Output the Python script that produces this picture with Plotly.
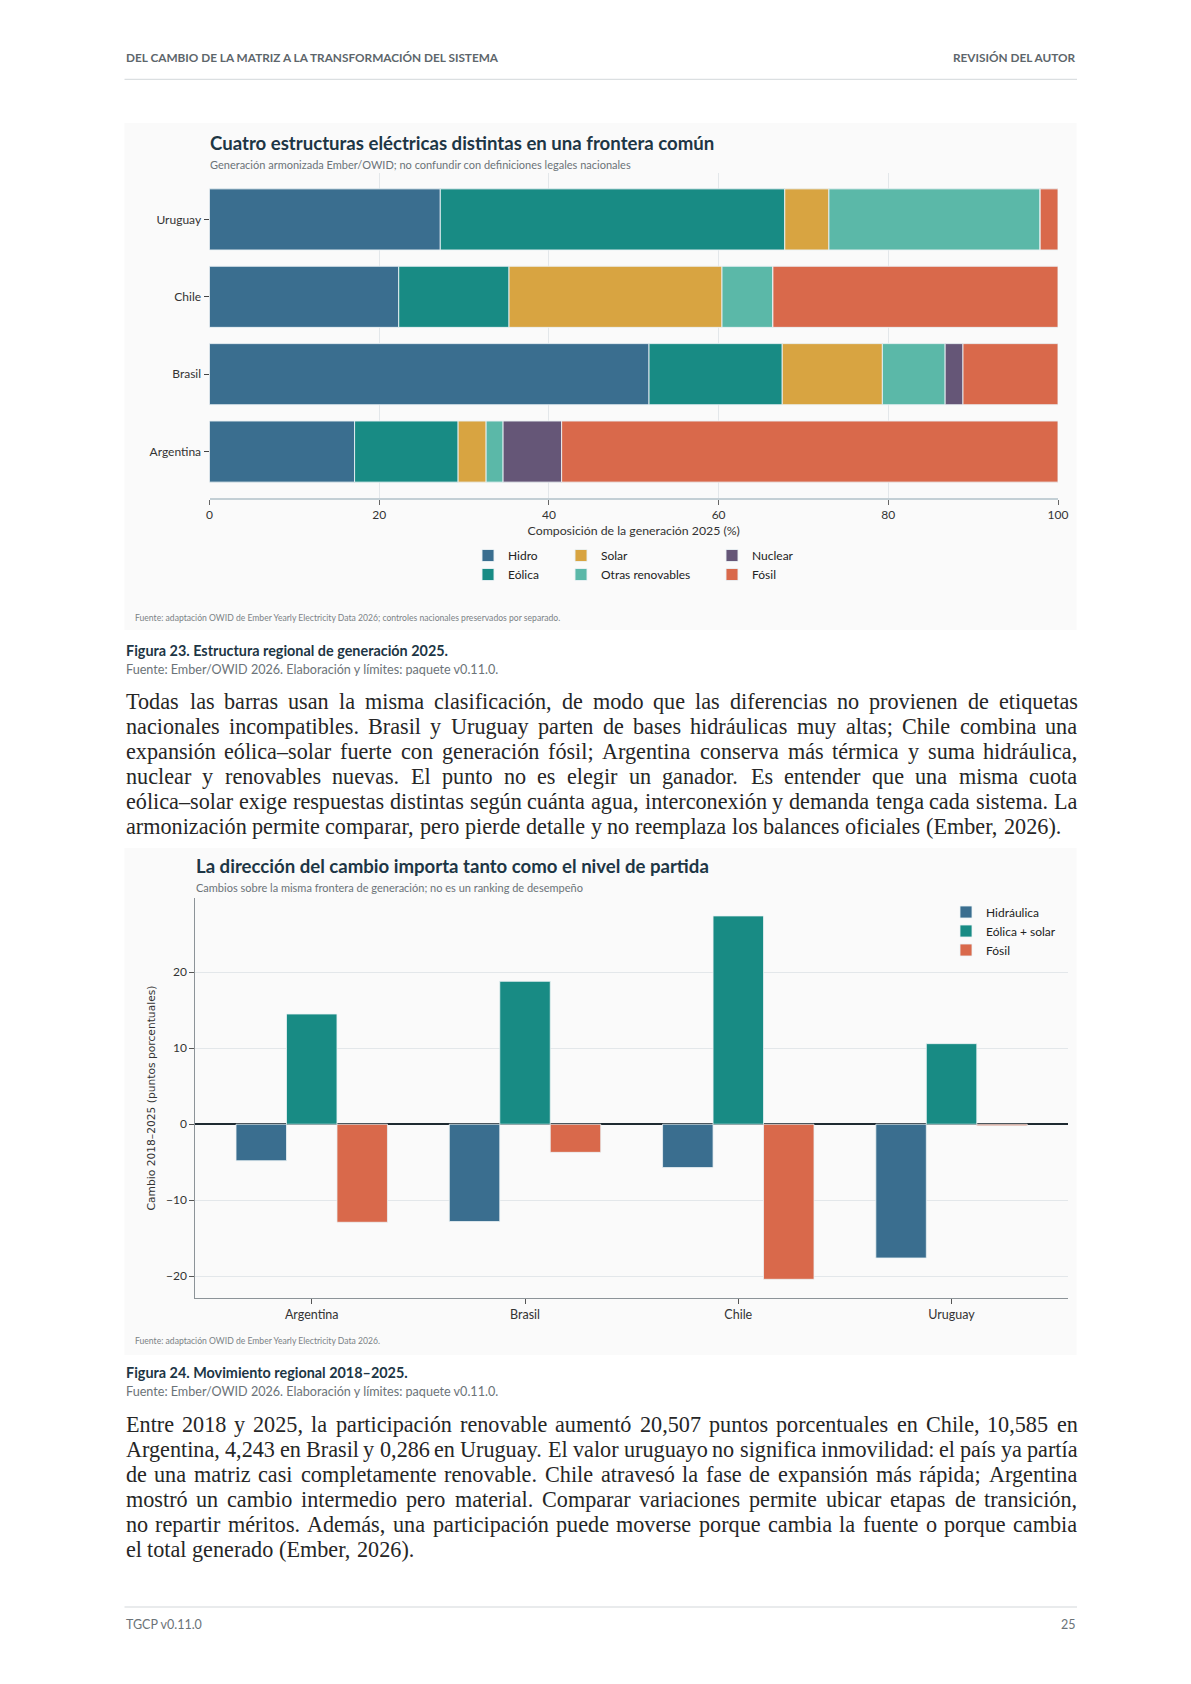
import unicodedata
import plotly.graph_objects as go

# the page puts the figure 8px in from the top-left corner
OFF = 8
W, H = 1183, 1668

# ---- datos figura 23: composicion de la generacion 2025 (%)
paises = ["Argentina", "Brasil", "Chile", "Uruguay"]
hidro = [17.1, 51.8, 22.3, 27.2]
eolica = [12.2, 15.7, 13.0, 40.6]
solar = [3.3, 11.8, 25.1, 5.2]
otras = [2.0, 7.4, 6.0, 24.9]
nuclear = [6.9, 2.1, 0.0, 0.0]
fosil = [58.5, 11.2, 33.6, 2.1]
ticks_comp = [0, 20, 40, 60, 80, 100]

# ---- datos figura 24: cambio 2018-2025 (puntos porcentuales)
cambio_hidro = [-4.8, -12.8, -5.7, -17.6]
cambio_eolsol = [14.5, 18.8, 27.4, 10.6]
cambio_fosil = [-12.9, -3.7, -20.4, -0.2]
ticks_cambio = [-20, -10, 0, 10, 20]

C_HIDRO = "#3a6e8f"
C_EOLICA = "#188b84"
C_SOLAR = "#d8a441"
C_OTRAS = "#5bb8a8"
C_NUCLEAR = "#655677"
C_FOSIL = "#d9694b"

SANS = "Lato, 'Noto Sans', sans-serif"
SERIF = "'Liberation Serif', serif"
OSCURO = "#1d3645"
GRIS = "#6b7378"


def fx(px):
    return (px - OFF) / W


def fy(py):
    return 1 - (py - OFF) / H


parrafo1 = [
    "Todas las barras usan la misma clasificación, de modo que las diferencias no provienen de etiquetas",
    "nacionales incompatibles. Brasil y Uruguay parten de bases hidráulicas muy altas; Chile combina una",
    "expansión eólica–solar fuerte con generación fósil; Argentina conserva más térmica y suma hidráulica,",
    "nuclear y renovables nuevas. El punto no es elegir un ganador. Es entender que una misma cuota",
    "eólica–solar exige respuestas distintas según cuánta agua, interconexión y demanda tenga cada sistema. La",
    "armonización permite comparar, pero pierde detalle y no reemplaza los balances oficiales (Ember, 2026).",
]
parrafo2 = [
    "Entre 2018 y 2025, la participación renovable aumentó 20,507 puntos porcentuales en Chile, 10,585 en",
    "Argentina, 4,243 en Brasil y 0,286 en Uruguay. El valor uruguayo no significa inmovilidad: el país ya partía",
    "de una matriz casi completamente renovable. Chile atravesó la fase de expansión más rápida; Argentina",
    "mostró un cambio intermedio pero material. Comparar variaciones permite ubicar etapas de transición,",
    "no repartir méritos. Además, una participación puede moverse porque cambia la fuente o porque cambia",
    "el total generado (Ember, 2026).",
]

# anchos Times (Liberation Serif es metrica-compatible), unidades por 1000
TIMES = {" ": 250, ",": 250, ".": 250, ":": 278, ";": 278, "(": 333, ")": 333,
         "-": 333, "/": 278, "–": 500,
         "A": 722, "B": 667, "C": 667, "D": 722, "E": 611, "F": 556, "G": 722,
         "H": 722, "I": 333, "J": 389, "K": 722, "L": 611, "M": 889, "N": 722,
         "O": 722, "P": 556, "Q": 722, "R": 667, "S": 556, "T": 611, "U": 722,
         "V": 722, "W": 944, "X": 722, "Y": 722, "Z": 611,
         "a": 444, "b": 500, "c": 444, "d": 500, "e": 444, "f": 333, "g": 500,
         "h": 500, "i": 278, "j": 278, "k": 500, "l": 278, "m": 778, "n": 500,
         "o": 500, "p": 500, "q": 500, "r": 333, "s": 389, "t": 278, "u": 500,
         "v": 500, "w": 722, "x": 500, "y": 500, "z": 444}


def ancho(txt, size):
    tot = 0
    for ch in txt:
        base = unicodedata.normalize("NFD", ch)[0]
        tot += TIMES.get(base, 500)
    return tot * size / 1000


X_IZQ, X_DER = 124.5, 1076.5
# tamaño tal que la ultima linea del primer parrafo mida lo mismo que en el original
BODY_SIZE = 935.5 / ancho(parrafo1[-1], 1)


def parrafo(lineas, y0, paso=25.0):
    anns = []
    for i, linea in enumerate(lineas):
        palabras = linea.split(" ")
        anchos = [ancho(p, BODY_SIZE) for p in palabras]
        ultima = i == len(lineas) - 1
        if ultima or len(palabras) < 2:
            hueco = ancho(" ", BODY_SIZE)
        else:
            hueco = (X_DER - X_IZQ - sum(anchos)) / (len(palabras) - 1)
            hueco = max(hueco, 0.15 * BODY_SIZE)
        x = X_IZQ
        for p, a in zip(palabras, anchos):
            anns.append(dict(text=p, x=fx(x), y=fy(y0 + i * paso), xref="paper", yref="paper",
                             xanchor="left", yanchor="middle", showarrow=False, borderpad=0,
                             font=dict(family=SERIF, size=BODY_SIZE, color="#262626")))
            x += a + hueco
    return anns


fig = go.Figure()

# ---- figura 23: barras apiladas horizontales
series1 = [("Hidro", hidro, C_HIDRO, "legend"), ("Eólica", eolica, C_EOLICA, "legend"),
           ("Solar", solar, C_SOLAR, "legend2"), ("Otras renovables", otras, C_OTRAS, "legend2"),
           ("Nuclear", nuclear, C_NUCLEAR, "legend3"), ("Fósil", fosil, C_FOSIL, "legend3")]
acum = [0.0] * len(paises)
for nombre, vals, color, leg in series1:
    fig.add_trace(go.Bar(y=paises, x=vals, base=list(acum), orientation="h", name=nombre,
                         offsetgroup="comp", width=0.79, legend=leg,
                         marker=dict(color=color, line=dict(color="rgba(235,242,245,0.9)", width=1)),
                         xaxis="x", yaxis="y"))
    acum = [a + v for a, v in zip(acum, vals)]

# ---- figura 24: barras agrupadas
series2 = [("Hidráulica", cambio_hidro, C_HIDRO), ("Eólica + solar", cambio_eolsol, C_EOLICA),
           ("Fósil", cambio_fosil, C_FOSIL)]
for nombre, vals, color in series2:
    fig.add_trace(go.Bar(x=paises, y=vals, name=nombre, legend="legend4",
                         marker=dict(color=color, line=dict(color="rgba(235,242,245,0.8)", width=1)),
                         xaxis="x2", yaxis="y2"))

eje_font = dict(family=SANS, size=12, color="#333")
leg_common = dict(orientation="v", xanchor="left", yanchor="middle", bgcolor="rgba(0,0,0,0)",
                  font=dict(family=SANS, size=12, color="#222"), itemwidth=30, tracegroupgap=0)

fig.update_layout(
    width=W, height=H, margin=dict(l=0, r=0, t=0, b=0),
    paper_bgcolor="white", plot_bgcolor="rgba(0,0,0,0)",
    barmode="group", bargap=0.29, bargroupgap=0,
    font=dict(family=SANS, size=12, color="#333"),
    xaxis=dict(domain=[fx(209.5), fx(1058)], anchor="y", range=[0, 100], tickvals=ticks_comp,
               showgrid=True, gridcolor="#e3e7ea", gridwidth=1, zeroline=False,
               showline=True, linecolor="#c3cfd5", linewidth=2, ticks="outside", ticklen=5,
               tickcolor="#666", tickfont=eje_font, automargin=False,
               title=dict(text="Composición de la generación 2025 (%)", standoff=5,
                          font=dict(family=SANS, size=12.3, color="#333"))),
    yaxis=dict(domain=[fy(498), fy(173)], anchor="x", categoryorder="array", categoryarray=paises,
               range=[-0.6, 3.6], showgrid=False, zeroline=False, showline=False,
               ticks="outside", ticklen=5, tickcolor="#444", tickfont=eje_font, automargin=False),
    xaxis2=dict(domain=[fx(195.3), fx(1068)], anchor="y2", range=[-0.546, 3.546],
                showgrid=False, zeroline=False, showline=True, linecolor="#8c9398", linewidth=1,
                ticks="outside", ticklen=5, tickcolor="#555",
                tickfont=dict(family=SANS, size=12.5, color="#333"), automargin=False),
    yaxis2=dict(domain=[fy(1298.3), fy(897.7)], anchor="x2", range=[-22.9, 29.8], tickvals=ticks_cambio,
                showgrid=True, gridcolor="#e3e7ea", gridwidth=1, zeroline=True, zerolinecolor="#1e2a31",
                zerolinewidth=1.5, showline=True, linecolor="#8c9398", linewidth=1,
                ticks="outside", ticklen=5, tickcolor="#555", tickfont=eje_font, automargin=False,
                title=dict(text="Cambio 2018–2025 (puntos porcentuales)", standoff=8,
                           font=dict(family="'DejaVu Sans', sans-serif", size=10.7, color="#333"))),
    legend=dict(x=fx(468), y=fy(565), **leg_common),
    legend2=dict(x=fx(561), y=fy(565), **leg_common),
    legend3=dict(x=fx(712), y=fy(565), **leg_common),
    legend4=dict(x=fx(946), y=fy(931), **leg_common),
    showlegend=True,
)

# fondos de las figuras y lineas de pagina
fig.add_shape(type="rect", xref="paper", yref="paper", x0=fx(124.5), x1=fx(1076.5), y0=fy(630), y1=fy(123),
              fillcolor="#fafafa", line=dict(width=0), layer="below")
fig.add_shape(type="rect", xref="paper", yref="paper", x0=fx(124.5), x1=fx(1076.5), y0=fy(1355), y1=fy(848),
              fillcolor="#fafafa", line=dict(width=0), layer="below")
fig.add_shape(type="line", xref="paper", yref="paper", x0=fx(124.5), x1=fx(1077), y0=fy(79.3), y1=fy(79.3),
              line=dict(color="#d3d7da", width=1))
fig.add_shape(type="line", xref="paper", yref="paper", x0=fx(124.5), x1=fx(1077), y0=fy(1607), y1=fy(1607),
              line=dict(color="#d3d7da", width=1))


def texto(t, x, y, size, color, weight="normal", anchor="left", family=SANS):
    fig.add_annotation(text=t, x=fx(x), y=fy(y), xref="paper", yref="paper", xanchor=anchor,
                       yanchor="middle", showarrow=False, borderpad=0,
                       font=dict(family=family, size=size, color=color, weight=weight))


texto("DEL CAMBIO DE LA MATRIZ A LA TRANSFORMACIÓN DEL SISTEMA", 124.5, 57.5, 11.8, "#5d666b", "bold")
texto("REVISIÓN DEL AUTOR", 1076.5, 57.5, 11.8, "#5d666b", "bold", anchor="right")

texto("Cuatro estructuras eléctricas distintas en una frontera común", 208.5, 142.5, 18.6, OSCURO, "bold")
texto("Generación armonizada Ember/OWID; no confundir con definiciones legales nacionales", 209, 164.5, 11, GRIS)
texto("Fuente: adaptación OWID de Ember Yearly Electricity Data 2026; controles nacionales preservados por separado.",
      133.8, 617.7, 8.6, "#7a8286")
texto("Figura 23. Estructura regional de generación 2025.", 124.5, 650.5, 14.4, OSCURO, "bold")
texto("Fuente: Ember/OWID 2026. Elaboración y límites: paquete v0.11.0.", 124.5, 669.5, 12.6, GRIS)

texto("La dirección del cambio importa tanto como el nivel de partida", 194.5, 865.5, 18.6, OSCURO, "bold")
texto("Cambios sobre la misma frontera de generación; no es un ranking de desempeño", 195, 887, 11, GRIS)
texto("Fuente: adaptación OWID de Ember Yearly Electricity Data 2026.", 133.8, 1340.7, 8.6, "#7a8286")
texto("Figura 24. Movimiento regional 2018–2025.", 124.5, 1372.3, 14.4, OSCURO, "bold")
texto("Fuente: Ember/OWID 2026. Elaboración y límites: paquete v0.11.0.", 124.5, 1391.7, 12.6, GRIS)

texto("TGCP v0.11.0", 124.5, 1624.5, 12.5, GRIS)
texto("25", 1076.5, 1624.5, 12.5, GRIS, anchor="right")

for a in parrafo(parrafo1, 701.7) + parrafo(parrafo2, 1424):
    fig.add_annotation(**a)

fig.write_html("out.html")
